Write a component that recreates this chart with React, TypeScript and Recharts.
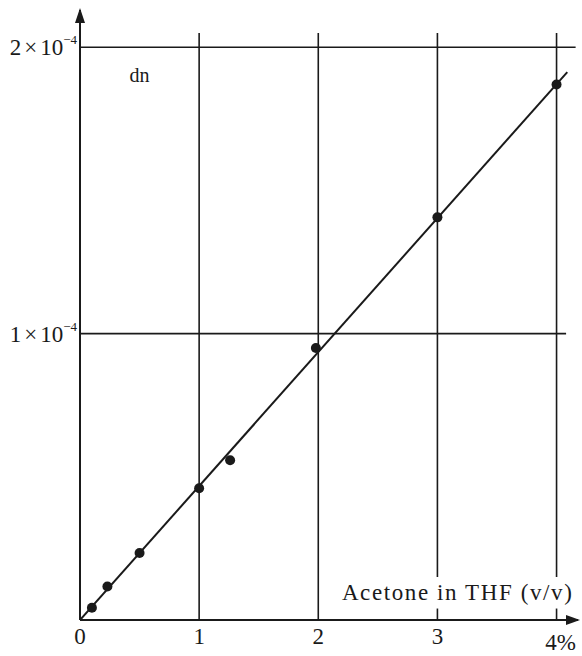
import React from "react";
import {
  ScatterChart,
  Scatter,
  XAxis,
  YAxis,
  ReferenceLine,
  ReferenceDot,
} from "recharts";

// Acetone content in THF (% v/v) and measured refractive index increment (units of 1e-4)
const concentration = [0.1, 0.23, 0.5, 1.0, 1.26, 1.98, 3.0, 4.0];
const dnValues = [0.043, 0.117, 0.234, 0.46, 0.558, 0.95, 1.406, 1.87];

// Fitted straight line through the origin
const fitX = [0, 4.09];
const fitDn = [0, 1.913];

const xTicks = [0, 1, 2, 3, 4];
const yTicks = [1, 2];
const xTickText = ["0", "1", "2", "3", "4%"];
const yTickMantissa = ["1", "2"];

const measured = concentration.map((x, i) => ({ x, y: dnValues[i] }));
const fitLine = fitX.map((x, i) => ({ x, y: fitDn[i] }));

const INK = "#1a1a1a";
const FONT = "Liberation Serif, DejaVu Serif, serif";

const X_MAX = 4.18;
const Y_MAX = 2.13;
const GRID_TOP = 2.05;

const renderXTick = (props: any) => {
  const { x, payload } = props;
  const idx = xTicks.indexOf(payload.value);
  const isLast = idx === xTicks.length - 1;
  return (
    <text
      x={isLast ? x + 4 : x}
      y={isLast ? 650 : 644}
      textAnchor="middle"
      style={{ fontFamily: FONT, fontSize: 23 }}
      fill={INK}
    >
      {xTickText[idx]}
    </text>
  );
};

const renderYTick = (props: any) => {
  const { y, payload } = props;
  const idx = yTicks.indexOf(payload.value);
  return (
    <text
      x={77}
      y={y + 8}
      textAnchor="end"
      style={{ fontFamily: FONT, fontSize: 23 }}
      fill={INK}
    >
      <tspan>{yTickMantissa[idx]}</tspan>
      <tspan dx={3}>×</tspan>
      <tspan dx={3}>10</tspan>
      <tspan dy={-11} style={{ fontSize: 13 }}>
        −4
      </tspan>
    </text>
  );
};

const xArrow = (p: any) => (
  <polygon
    points={`${p.cx + 2},${p.cy} ${p.cx - 12},${p.cy - 5} ${p.cx - 12},${p.cy + 5}`}
    fill={INK}
  />
);

const yArrow = (p: any) => (
  <polygon
    points={`${p.cx},${p.cy - 2} ${p.cx - 5},${p.cy + 13} ${p.cx + 5},${p.cy + 13}`}
    fill={INK}
  />
);

const dnLabel = (p: any) => (
  <text
    x={p.cx}
    y={p.cy}
    textAnchor="middle"
    style={{ fontFamily: FONT, fontSize: 20 }}
    fill={INK}
  >
    dn
  </text>
);

const xTitle = (p: any) => (
  <text
    x={p.cx}
    y={p.cy}
    textAnchor="middle"
    style={{ fontFamily: FONT, fontSize: 23, letterSpacing: 1.6 }}
    fill={INK}
  >
    Acetone in THF (v/v)
  </text>
);

const dot = (p: any) => <circle cx={p.cx} cy={p.cy} r={5} fill={INK} />;
const noDot = () => null;

const gridStroke = { stroke: INK, strokeWidth: 1.6 };

export default function App() {
  return (
    <div style={{ position: "absolute", left: 0, top: 0, background: "#fff" }}>
      <ScatterChart
        width={582}
        height={656}
        margin={{ top: 10, right: 4, bottom: 6, left: 0 }}
      >
        <XAxis
          type="number"
          dataKey="x"
          domain={[0, X_MAX]}
          ticks={xTicks}
          allowDataOverflow
          height={30}
          tickLine={false}
          axisLine={{ stroke: INK, strokeWidth: 2 }}
          tick={renderXTick}
        />
        <YAxis
          type="number"
          dataKey="y"
          domain={[0, Y_MAX]}
          ticks={yTicks}
          allowDataOverflow
          width={80}
          tickLine={false}
          axisLine={{ stroke: INK, strokeWidth: 2 }}
          tick={renderYTick}
        />

        {/* horizontal grid lines */}
        <ReferenceLine
          segment={[
            { x: 0, y: 2 },
            { x: 4.16, y: 2 },
          ]}
          {...gridStroke}
        />
        <ReferenceLine
          segment={[
            { x: 0, y: 1 },
            { x: 4.08, y: 1 },
          ]}
          {...gridStroke}
        />

        {/* vertical grid lines; the ones at 3 and 4 break around the axis title */}
        <ReferenceLine
          segment={[
            { x: 1, y: 0 },
            { x: 1, y: GRID_TOP },
          ]}
          {...gridStroke}
        />
        <ReferenceLine
          segment={[
            { x: 2, y: 0 },
            { x: 2, y: GRID_TOP },
          ]}
          {...gridStroke}
        />
        <ReferenceLine
          segment={[
            { x: 3, y: 0 },
            { x: 3, y: 0.04 },
          ]}
          {...gridStroke}
        />
        <ReferenceLine
          segment={[
            { x: 3, y: 0.15 },
            { x: 3, y: GRID_TOP },
          ]}
          {...gridStroke}
        />
        <ReferenceLine
          segment={[
            { x: 4, y: 0 },
            { x: 4, y: 0.04 },
          ]}
          {...gridStroke}
        />
        <ReferenceLine
          segment={[
            { x: 4, y: 0.15 },
            { x: 4, y: GRID_TOP },
          ]}
          {...gridStroke}
        />

        <Scatter
          data={fitLine}
          line={{ stroke: INK, strokeWidth: 2 }}
          shape={noDot}
          isAnimationActive={false}
        />
        <Scatter data={measured} shape={dot} isAnimationActive={false} />

        <ReferenceDot x={X_MAX} y={0} r={0} shape={xArrow} ifOverflow="visible" />
        <ReferenceDot x={0} y={Y_MAX} r={0} shape={yArrow} ifOverflow="visible" />
        <ReferenceDot x={0.5} y={1.88} r={0} shape={dnLabel} ifOverflow="visible" />
        <ReferenceDot x={3.17} y={0.07} r={0} shape={xTitle} ifOverflow="visible" />
      </ScatterChart>
    </div>
  );
}
